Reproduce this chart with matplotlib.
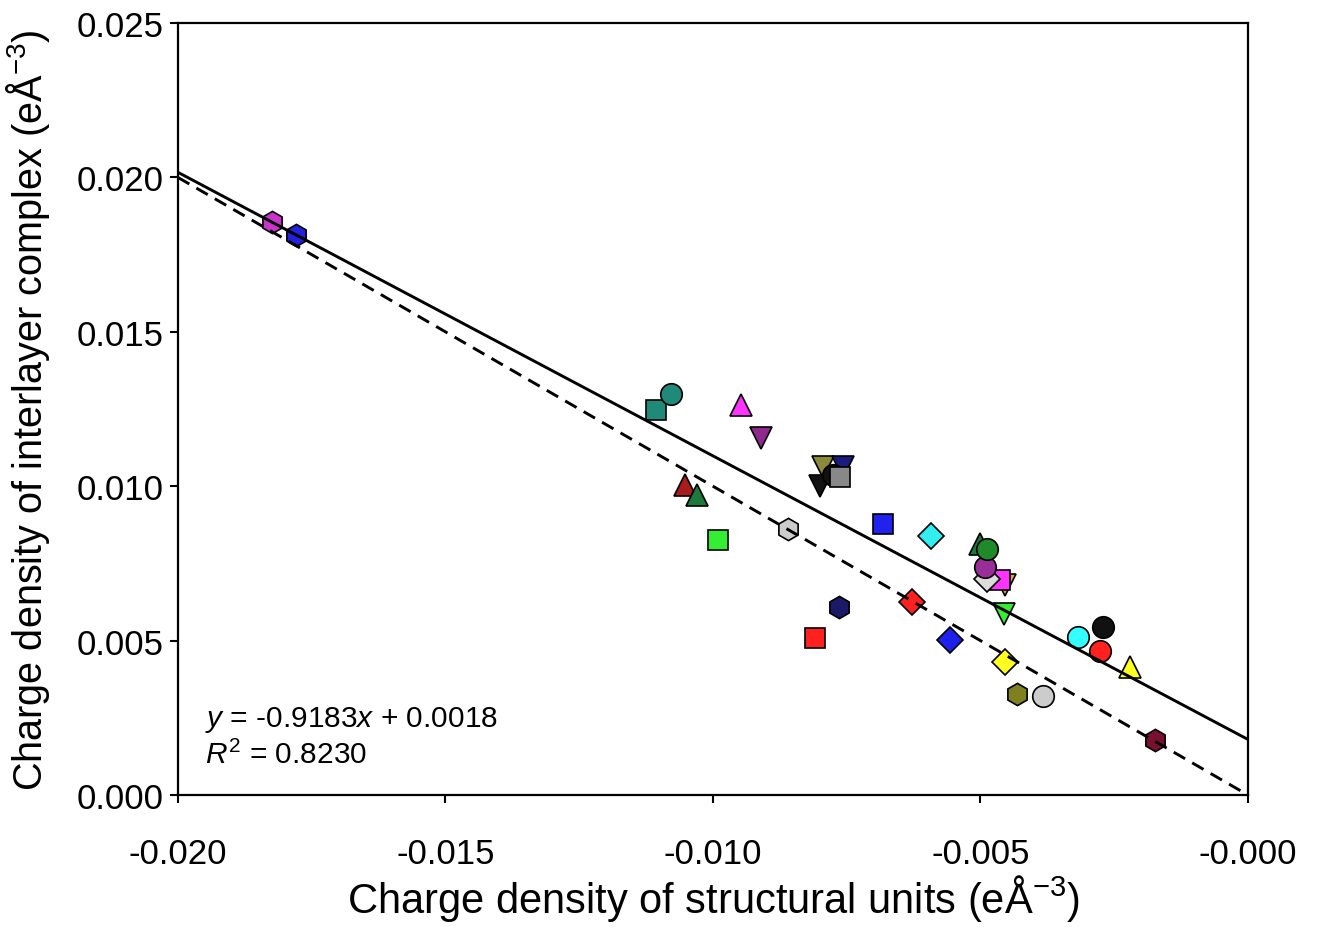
import numpy as np
import matplotlib
matplotlib.use("Agg")
import matplotlib.pyplot as plt

plt.rcParams['font.family'] = ['Liberation Sans', 'DejaVu Sans']
plt.rcParams['mathtext.fontset'] = 'custom'
plt.rcParams['mathtext.rm'] = 'Liberation Sans'
plt.rcParams['mathtext.it'] = 'Liberation Sans:italic'

# charge density of structural units (x) vs interlayer complex (y)
su_density = [-0.01824, -0.01779, -0.01107, -0.01079, -0.00948, -0.00910,
              -0.01052, -0.01030, -0.00991, -0.00860,
              -0.00794, -0.00757, -0.00800, -0.00776, -0.00763,
              -0.00682, -0.00593,
              -0.00454, -0.00464, -0.00488, -0.00492, -0.00501, -0.00488,
              -0.00456, -0.00628, -0.00764, -0.00809, -0.00557, -0.00454,
              -0.00432, -0.00383, -0.00318, -0.00271, -0.00277, -0.00221,
              -0.00174]
ic_density = [0.01856, 0.01813, 0.01247, 0.01299, 0.01263, 0.01156,
              0.01004, 0.00972, 0.00826, 0.00861,
              0.01062, 0.01062, 0.01000, 0.01036, 0.01030,
              0.00878, 0.00839,
              0.00680, 0.00696, 0.00699, 0.00738, 0.00813, 0.00797,
              0.00586, 0.00625, 0.00609, 0.00508, 0.00502, 0.00431,
              0.00327, 0.00321, 0.00512, 0.00544, 0.00466, 0.00415,
              0.00178]

markers = ['h', 'h', 's', 'o', '^', 'v',
           '^', '^', 's', 'h',
           'v', 'v', 'v', 'o', 's',
           's', 'D',
           'v', 's', 'D', 'o', '^', 'o',
           'v', 'D', 'h', 's', 'D', 'D',
           'h', 'o', 'o', 'o', 'o', '^',
           'h']
colors = ['#cc33cc', '#2222dd', '#1f8a7a', '#1f8a7a', '#ff33ff', '#8e2a8e',
          '#a81c1c', '#1c7a3c', '#33ee33', '#cccccc',
          '#8a8a3a', '#1a1a80', '#111111', '#111111', '#888888',
          '#2222ee', '#33eeee',
          '#ddaa33', '#ff33ff', '#dddddd', '#992e99', '#1c7a3c', '#1f8a2a',
          '#33ee33', '#ff2020', '#1a1a66', '#ff2020', '#2020ee', '#ffff22',
          '#808020', '#cccccc', '#33ffff', '#111111', '#ff2020', '#ffff22',
          '#7a1030']

slope = -0.9183
intercept = 0.0018

fig = plt.figure(figsize=(13.23, 9.28), dpi=100)
ax = fig.add_axes([0.1345, 0.1422, 0.8088, 0.8319])

sizes = {'s': 14.5, 'o': 15.5, '^': 15.5, 'v': 15.5, 'D': 13.5, 'h': 16}
for xv, yv, m, c in zip(su_density, ic_density, markers, colors):
    ax.plot(xv, yv, marker=m, color=c, markersize=sizes[m],
            markeredgecolor='black', markeredgewidth=1.2, linestyle='none', zorder=2)

# regression line and 1:1 line
xs = np.array([-0.020, 0.0])
ax.plot(xs, slope * xs + intercept, color='black', lw=2.1, zorder=3)
ax.plot(xs, -xs, color='black', lw=2.1, linestyle=(0, (4.5, 2.8)), zorder=3)

ax.set_xlim(-0.020, 0.0)
ax.set_ylim(0.0, 0.025)
ax.set_xticks([-0.020, -0.015, -0.010, -0.005, 0.0])
ax.set_xticklabels(['-0.020', '-0.015', '-0.010', '-0.005', '-0.000'])
ax.set_yticks([0.0, 0.005, 0.010, 0.015, 0.020, 0.025])
ax.set_yticklabels(['0.000', '0.005', '0.010', '0.015', '0.020', '0.025'])
ax.tick_params(direction='out', length=6, width=1.5, labelsize=25,
               top=False, right=False, pad=4)
ax.tick_params(axis='x', pad=24)
for s in ax.spines.values():
    s.set_linewidth(1.6)

ax.set_xlabel('Charge density of structural units (eÅ$^{-3}$)', fontsize=30, labelpad=2)
ax.set_ylabel('Charge density of interlayer complex (eÅ$^{-3}$)', fontsize=28.5, labelpad=12)
ax.yaxis.set_label_coords(-0.118, 0.5)

ax.text(0.025, 0.098, '$y$ = -0.9183$x$ + 0.0018', transform=ax.transAxes,
        fontsize=21.5, va='center', ha='left')
ax.text(0.025, 0.053, '$R^2$ = 0.8230', transform=ax.transAxes,
        fontsize=21.5, va='center', ha='left')

fig.savefig('out.png', dpi=100)
